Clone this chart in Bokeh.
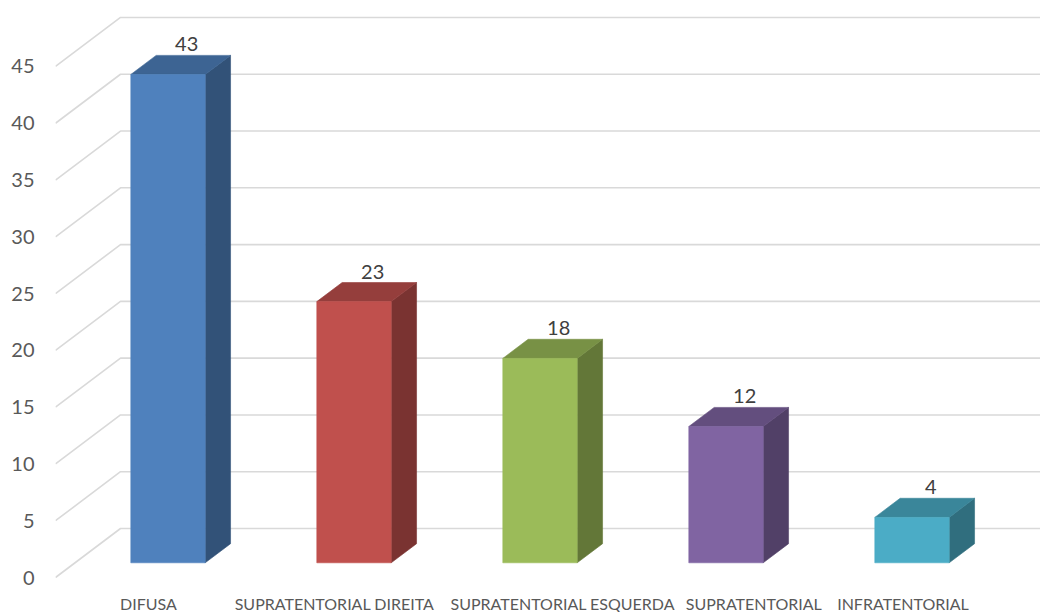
import numpy as np
from bokeh.plotting import figure
from bokeh.models import Range1d, FixedTicker
from bokeh.core.properties import value
from bokeh.embed import file_html
from bokeh.resources import INLINE

# ---- data ----
categories = ["DIFUSA", "SUPRATENTORIAL DIREITA", "SUPRATENTORIAL ESQUERDA",
              "SUPRATENTORIAL", "INFRATENTORIAL"]
counts = [43, 23, 18, 12, 4]
y_ticks = [0, 5, 10, 15, 20, 25, 30, 35, 40, 45]
front_colors = ["#4F81BD", "#C0504D", "#9BBB59", "#8064A2", "#4BACC6"]

# ---- layout / style constants ----
W, H = 1040, 612
LEFT = 55                 # frame left border (px)
FLOOR_PX = 577            # pixel row of value 0 on the front plane
PX_PER_VAL = 11.356
PX_PER_CAT = 186
DEPTH_DX_PX, DEPTH_DY_PX = 65, 49
BAR_W = 0.40              # bar width in category units
BAR_D0, BAR_D1 = 0.30, 0.69   # bar depth span (fraction of full depth)
FONT = "Lato"
CAT_CHAR_PX = 9.3
CAT_GAP_PX = 19
VAL_LABEL_RISE_PX = 11    # centre of value label above the bar's back-top edge
VAL_LABEL_SHIFT_PX = 6
CAT_LABEL_MID_PX = 603    # pixel row of the category label centres

dx = DEPTH_DX_PX / PX_PER_CAT
dy = DEPTH_DY_PX / PX_PER_VAL
y_lo = -(H - FLOOR_PX) / PX_PER_VAL
y_hi = FLOOR_PX / PX_PER_VAL
x_hi = (W - LEFT) / PX_PER_CAT


def shade(hex_color, f):
    h = hex_color.lstrip("#")
    r, g, b = (int(h[i:i + 2], 16) for i in (0, 2, 4))
    return "#%02x%02x%02x" % (int(r * f), int(g * f), int(b * f))


p = figure(width=W, height=H, x_range=Range1d(0, x_hi), y_range=Range1d(y_lo, y_hi),
           output_backend="svg", toolbar_location=None, x_axis_location=None,
           min_border=0, min_border_left=LEFT)
p.outline_line_color = None
p.xgrid.visible = False
p.ygrid.visible = False
p.background_fill_color = "white"
p.border_fill_color = "white"

# y axis
ax = p.yaxis[0]
ax.ticker = FixedTicker(ticks=y_ticks)
ax.axis_line_color = None
ax.major_tick_line_color = None
ax.minor_tick_line_color = None
ax.major_tick_in = 0
ax.major_tick_out = 0
ax.major_label_standoff = 21
ax.major_label_text_font = FONT
ax.major_label_text_font_size = "20px"
ax.major_label_text_color = "#595959"

# gridlines: oblique on the side wall, horizontal along the back wall
gx = [[0, dx, x_hi] for t in y_ticks]
gy = [[t, t + dy, t + dy] for t in y_ticks]
p.multi_line(gx, gy, line_color="#d9d9d9", line_width=1.6)

# 3D bars
fx, fy, sx, sy, tx, ty = [], [], [], [], [], []
fc, sc, tc = [], [], []
for i, v in enumerate(counts):
    c = i + 0.5
    xl = c - BAR_W / 2 + BAR_D0 * dx
    xr = xl + BAR_W
    b0 = BAR_D0 * dy
    ddx = (BAR_D1 - BAR_D0) * dx
    ddy = (BAR_D1 - BAR_D0) * dy
    fx.append([xl, xr, xr, xl]); fy.append([b0, b0, v + b0, v + b0])
    sx.append([xr, xr + ddx, xr + ddx, xr]); sy.append([b0, b0 + ddy, v + b0 + ddy, v + b0])
    tx.append([xl, xr, xr + ddx, xl + ddx]); ty.append([v + b0, v + b0, v + b0 + ddy, v + b0 + ddy])
    fc.append(front_colors[i]); sc.append(shade(front_colors[i], 0.64)); tc.append(shade(front_colors[i], 0.78))

p.patches(sx, sy, fill_color=sc, line_color=sc, line_width=0.6)
p.patches(tx, ty, fill_color=tc, line_color=tc, line_width=0.6)
p.patches(fx, fy, fill_color=fc, line_color=fc, line_width=0.6)

# value labels above each bar
lx = [i + 0.5 + (BAR_D0 + BAR_D1) / 2 * dx + VAL_LABEL_SHIFT_PX / PX_PER_CAT
      for i in range(len(counts))]
ly = [v + BAR_D1 * dy + VAL_LABEL_RISE_PX / PX_PER_VAL for v in counts]
p.text(lx, ly, text=[str(v) for v in counts], text_align="center", text_baseline="middle",
       text_font=value(FONT), text_font_size="20px", text_color="#404040")

# category labels, nudged right where they would overlap (as the original does)
cx_px = []
prev_end = -1e9
for i, name in enumerate(categories):
    w = len(name) * CAT_CHAR_PX
    start = max(LEFT + (i + 0.5) * PX_PER_CAT - w / 2, prev_end + CAT_GAP_PX)
    cx_px.append(start + w / 2)
    prev_end = start + w
cx = [(x - LEFT) / PX_PER_CAT for x in cx_px]
cy = [(FLOOR_PX - CAT_LABEL_MID_PX) / PX_PER_VAL] * len(categories)
p.text(cx, cy, text=categories, text_align="center", text_baseline="middle",
       text_font=value(FONT), text_font_size="16px", text_color="#595959")

open("out.html", "w").write(file_html(p, INLINE))
